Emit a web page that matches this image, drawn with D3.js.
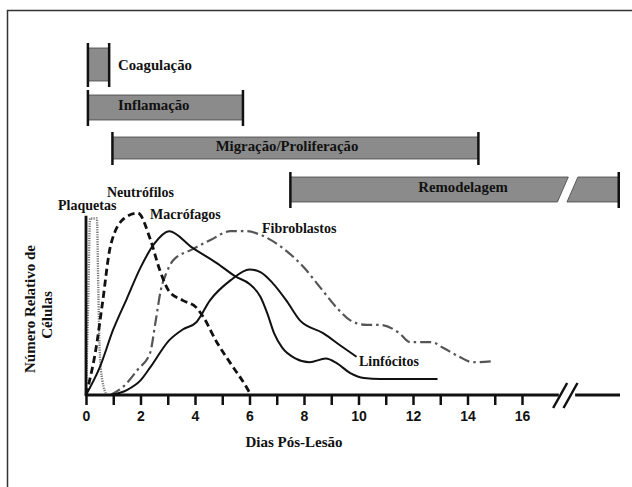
<!DOCTYPE html>
<html>
<head>
<meta charset="utf-8">
<script src="https://cdn.jsdelivr.net/npm/d3@7"></script>
<style>
    body { margin: 0; background: #fff; }
    svg text { font-family: 'Liberation Serif', 'Times New Roman', serif; font-weight: bold; fill: #111; }
    .axis text { font-family: 'Liberation Sans', Arial, sans-serif; font-size: 14px; font-weight: bold; fill: #111; }
</style>
</head>
<body>
<div id="chart"></div>
<script>
// fases da cicatrização, em dias
const fases = ['Coagulação', 'Inflamação', 'Migração/Proliferação', 'Remodelagem']
const faseInicio = [0.07, 0.07, 0.97, 7.5]
const faseFim = [0.85, 5.76, 14.4, 19.55]

// curvas [dia, número relativo]
const plaquetas = [[0, 0], [0.08, 50], [0.15, 97], [0.4, 97], [0.45, 60], [0.5, 25], [0.6, 8], [0.77, 0]]
const neutrofilos = [[0, 0], [0.1, 6], [0.35, 24], [0.6, 50], [0.9, 82], [1.4, 97], [1.9, 100], [2.35, 86], [2.7, 69],
    [3.05, 57], [3.55, 52], [4.05, 48], [4.3, 43], [4.8, 29], [5.3, 17.5], [5.9, 4], [6.05, 0]]
const macrofagos = [[0, 0], [0.5, 15], [1, 36], [1.5, 53], [2, 70], [2.5, 83], [3.05, 90], [3.9, 81], [4.8, 72.5],
    [5.5, 65], [6, 61], [6.4, 54], [6.65, 45], [6.9, 34], [7.2, 26], [7.7, 20], [8.2, 18], [8.8, 20], [9.2, 17.5],
    [9.7, 12], [10.2, 9.3], [10.8, 8.8], [12.9, 8.8]]
const fibroblastos = [[0.9, 0], [1.4, 5], [1.9, 14], [2.35, 23], [2.55, 40], [2.75, 58], [2.95, 67], [3.2, 74], [3.9, 80],
    [4.55, 85], [5.3, 90], [5.9, 90], [6.4, 88], [7.2, 81], [8, 70], [8.6, 59], [9.2, 48], [9.7, 41], [10.3, 38.5],
    [10.8, 38.5], [11.5, 34], [11.9, 29], [12.7, 29], [13.1, 26], [13.7, 21], [14.2, 18], [14.9, 18.5]]
const linfocitos = [[0.9, 0], [1.5, 2.7], [2, 8], [2.35, 15], [3.05, 30], [3.55, 36], [4.05, 40], [4.55, 52], [5.3, 63],
    [6, 69], [6.4, 67.5], [6.85, 61.5], [7.35, 52], [7.85, 41], [8.7, 34], [9.4, 26.5], [9.93, 21]]

const diasTicks = d3.range(0, 17)
const diasRotulos = [0, 2, 4, 6, 8, 10, 12, 14, 16]
const quebraEixo = [17.35, 17.95]

let width = 632
let height = 487

let x = d3.scaleLinear()
    .domain([0, 16])
    .range([86, 522])

let y = d3.scaleLinear()
    .domain([0, 100])
    .range([395, 213])

let svg = d3.select('#chart')
    .append('svg')
    .attr('width', width)
    .attr('height', height)

// moldura
svg.append('path')
    .attr('d', `M7.5,${height} V10.5 H${width}`)
    .attr('fill', 'none')
    .attr('stroke', '#333')
    .attr('stroke-width', 1.5)

// barras das fases
let faseY = [48, 95, 137, 177]
let faseAltura = [33, 25, 22, 25]
let faseTexto = [
    { x: 118, anchor: 'start', base: 70 },
    { x: 118, anchor: 'start', base: 110 },
    { x: 287, anchor: 'middle', base: 151 },
    { x: 463, anchor: 'middle', base: 192 }
]

fases.forEach((nome, i) => {
    let x0 = x(faseInicio[i])
    let x1 = x(faseFim[i])
    let top = faseY[i]
    let bot = top + faseAltura[i]
    let g = svg.append('g')
    if (i === 3) {
        // barra interrompida
        let a = x(17.3), b = x(17.7), c = x(17.65), e = x(18.05)
        g.append('path')
            .attr('d', `M${x0},${top} H${b} L${a},${bot} H${x0} Z`)
            .attr('fill', '#8b8b8b').attr('stroke', '#444').attr('stroke-width', 0.8)
        g.append('path')
            .attr('d', `M${e},${top} H${x1} V${bot} H${c} Z`)
            .attr('fill', '#8b8b8b').attr('stroke', '#444').attr('stroke-width', 0.8)
    } else {
        g.append('rect')
            .attr('x', x0).attr('y', top)
            .attr('width', x1 - x0).attr('height', bot - top)
            .attr('fill', '#8b8b8b').attr('stroke', '#444').attr('stroke-width', 0.8)
    }
    g.selectAll('line.end')
        .data([x0, x1])
        .enter().append('line')
        .attr('x1', d => d).attr('x2', d => d)
        .attr('y1', top - 5).attr('y2', bot + 6)
        .attr('stroke', '#111').attr('stroke-width', 2.5)
    g.append('text')
        .attr('x', faseTexto[i].x)
        .attr('y', faseTexto[i].base)
        .attr('text-anchor', faseTexto[i].anchor)
        .attr('font-size', 14.8)
        .text(nome)
})

// curvas
let line = d3.line()
    .x(d => x(d[0]))
    .y(d => y(d[1]))
    .curve(d3.curveMonotoneX)

let series = [
    { data: plaquetas, stroke: '#777', width: 2.4, dash: '1.2,1.2' },
    { data: fibroblastos, stroke: '#555', width: 2.2, dash: '11,4,2.5,4' },
    { data: linfocitos, stroke: '#111', width: 2, dash: null },
    { data: macrofagos, stroke: '#111', width: 2, dash: null },
    { data: neutrofilos, stroke: '#111', width: 2.8, dash: '7,4' }
]

svg.selectAll('.curva')
    .data(series)
    .enter().append('path')
    .attr('class', 'curva')
    .attr('d', d => line(d.data))
    .attr('fill', 'none')
    .attr('stroke', d => d.stroke)
    .attr('stroke-width', d => d.width)
    .attr('stroke-dasharray', d => d.dash)

let celulas = [
    { nome: 'Plaquetas', x: 58, y: 210 },
    { nome: 'Neutrófilos', x: 107, y: 197 },
    { nome: 'Macrófagos', x: 150, y: 219 },
    { nome: 'Fibroblastos', x: 262, y: 233 },
    { nome: 'Linfócitos', x: 359, y: 366 }
]

svg.selectAll('.rotulo')
    .data(celulas)
    .enter().append('text')
    .attr('class', 'rotulo')
    .attr('x', d => d.x)
    .attr('y', d => d.y)
    .attr('font-size', 14)
    .text(d => d.nome)

// eixos
let xAxis = d3.axisBottom(x)
    .tickValues(diasTicks)
    .tickSize(10)
    .tickPadding(6)
    .tickFormat(d => diasRotulos.includes(d) ? d : '')

let gx = svg.append('g')
    .attr('class', 'axis axis--x')
    .attr('transform', `translate(0, ${y(0)})`)
    .call(xAxis)

gx.select('.domain').remove()
gx.selectAll('.tick line').attr('stroke', '#111').attr('stroke-width', 2.5)

svg.append('line')
    .attr('x1', x(0) - 1).attr('x2', x(quebraEixo[0]))
    .attr('y1', y(0)).attr('y2', y(0))
    .attr('stroke', '#111').attr('stroke-width', 2.8)

svg.append('line')
    .attr('x1', x(quebraEixo[1])).attr('x2', 620)
    .attr('y1', y(0)).attr('y2', y(0))
    .attr('stroke', '#111').attr('stroke-width', 2.8)

svg.selectAll('.quebra')
    .data([x(17.4), x(17.78)])
    .enter().append('line')
    .attr('class', 'quebra')
    .attr('x1', d => d - 7).attr('x2', d => d + 7)
    .attr('y1', y(0) + 13).attr('y2', y(0) - 12)
    .attr('stroke', '#111').attr('stroke-width', 2.5)

svg.append('line')
    .attr('x1', x(0)).attr('x2', x(0))
    .attr('y1', y(0) + 1).attr('y2', y(98.5))
    .attr('stroke', '#111').attr('stroke-width', 2.8)

svg.append('text')
    .attr('x', 294)
    .attr('y', 447)
    .attr('text-anchor', 'middle')
    .attr('font-size', 15)
    .text('Dias Pós-Lesão')

let yl = svg.append('text')
    .attr('transform', 'translate(35, 309) rotate(-90)')
    .attr('text-anchor', 'middle')
    .attr('font-size', 15)

yl.append('tspan').attr('x', 0).attr('y', 0).text('Número Relativo de')
yl.append('tspan').attr('x', -6).attr('y', 17).text('Células')
</script>
</body>
</html>
